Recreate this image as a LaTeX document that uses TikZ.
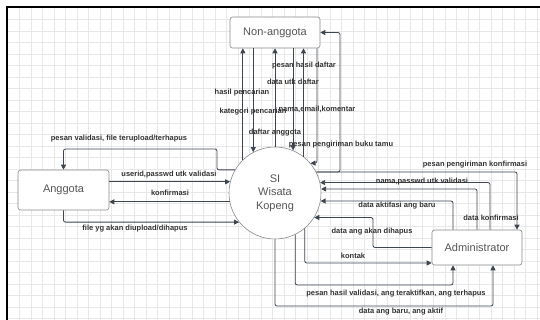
\documentclass[tikz,border=0pt]{standalone}
\usepackage{fontspec}
\setmainfont{Liberation Sans}
\usetikzlibrary{arrows.meta,calc}
\definecolor{linec}{HTML}{3D4550}
\definecolor{boxc}{HTML}{8A8A8A}
\definecolor{textc}{HTML}{555555}
\definecolor{labelc}{HTML}{333333}
\definecolor{gridc}{HTML}{E8E8E8}
\begin{document}
\begin{tikzpicture}[x=1pt,y=-1pt,
  flow/.style={draw=linec, line width=0.8pt, rounded corners=2pt,
    -{Triangle[length=5pt,width=5pt]}},
  lbl/.style={font=\bfseries\fontsize{7.5}{8}\selectfont, text=labelc, inner sep=0pt},
  entity/.style={draw=boxc, line width=0.6pt, rounded corners=2.5pt, fill=white,
    font=\fontsize{11}{13}\selectfont, text=textc},
  process/.style={circle, draw=boxc, line width=0.6pt, fill=white, align=center,
    font=\fontsize{11}{13.5}\selectfont, text=textc, inner sep=0pt}]
\useasboundingbox (0,0) rectangle (540,320);
\fill[white] (0,0) rectangle (540,320);
% background grid and frame
\foreach \gx in {19.5,31,...,540} \draw[gridc, line width=0.5pt] (\gx,8) -- (\gx,320);
\foreach \gy in {19.5,31,...,320} \draw[gridc, line width=0.5pt] (8,\gy) -- (540,\gy);
\draw[black, line width=1.8pt] (7,320) -- (7,7) -- (540,7);

% entities and the process
\node[entity, minimum width=90, minimum height=31] (non) at (275,32.5) {Non-anggota};
\node[entity, minimum width=91, minimum height=40] (ang) at (63.5,190) {Anggota};
\node[entity, minimum width=90, minimum height=35] (adm) at (477,247.5) {Administrator};
\node[process, minimum size=92] (si) at (275,193) {SI\\Wisata\\Kopeng};

% bend points
\coordinate (v1) at (217,149);
\coordinate (bt) at (340,0);
\coordinate (kf) at (517,0);
\coordinate (cf) at (317,163);
\coordinate (c490) at (490,0);
\coordinate (c453) at (453,0);
\coordinate (c373) at (373,0);
\coordinate (kt) at (0,263);
\coordinate (p1) at (453,285);
\coordinate (p2) at (493,306);

% Anggota <-> SI
\draw[flow] (si.150) -- (si.150 -| v1) -- (v1) -- (v1 -| ang.north) -- (ang.north);
\draw[flow] (ang.east |- si.166.2) -- (si.166.2);
\draw[flow] (si.191.3) -- (si.191.3 -| ang.east);
\draw[flow] (ang.south) |- (si.219.1);

% Non-anggota <-> SI
\draw[flow] (si.134.1) -- (si.134.1 |- non.south);
\draw[flow] (si.118.6 |- non.south) -- (si.118.6);
\draw[flow] (si.north) -- (non.south);
\draw[flow] (si.67 |- non.south) -- (si.67);
\draw[flow] (si.52.5) -- (si.52.5 |- non.south);
\draw[flow] (cf |- non.south) -- (cf) -- (si.40.7);
\draw[flow] (si.27.2) -- (si.27.2 -| bt) -- (bt |- non.east) -- (non.east);

% Administrator <-> SI
\draw[flow] (si.27.2) -| (kf |- adm.north);
\draw[flow] (c490 |- adm.north) |- (si.13.8);
\draw[flow] (adm.north) |- (si.5);
\draw[flow] (c453 |- adm.north) |- (si.-10);
\draw[flow] (adm.west) -- (c373 |- adm.west) -- (c373 |- si.-32.9) -- (si.-32.9);
\draw[flow] (si.-50.9) |- (adm.west |- kt);
\draw[flow] (si.-64.2) -- (si.-64.2 |- p1) -- (p1) -- (p1 |- adm.south);
\draw[flow] (si.south) -- (si.south |- p2) -- (p2) -- (p2 |- adm.south);

% flow labels
\node[lbl] (l1) at (119,139) {pesan validasi, file terupload/terhapus};
\node[lbl] (l2) at (169,175) {userid,passwd utk validasi};
\node[lbl] (l3) at (170,193) {konfirmasi};
\node[lbl] (l4) at (135,229) {file yg akan diupload/dihapus};
\node[lbl] (l5) at (242,93) {hasil pencarian};
\node[lbl] (l6) at (253,112) {kategori pencarian};
\node[lbl] (l7) at (275,133) {daftar anggota};
\node[lbl] (l8) at (293,82) {data utk daftar};
\node[lbl] (l9) at (304,66) {pesan hasil daftar};
\node[lbl] (l10) at (317,109) {nama,email,komentar};
\node[lbl] (l11) at (341,145) {pesan pengiriman buku tamu};
\node[lbl] (l12) at (475,165) {pesan pengiriman konfirmasi};
\node[lbl] (l13) at (422,182) {nama,passwd utk validasi};
\node[lbl] (l14) at (397,206) {data aktifasi ang baru};
\node[lbl] (l15) at (491,218) {data konfirmasi};
\node[lbl] (l16) at (372,232) {data ang akan dihapus};
\node[lbl] (l17) at (353,256) {kontak};
\node[lbl] (l18) at (396,294) {pesan hasil validasi, ang teraktifkan, ang terhapus};
\node[lbl] (l19) at (401,312) {data ang baru, ang aktif};
\end{tikzpicture}
\end{document}
